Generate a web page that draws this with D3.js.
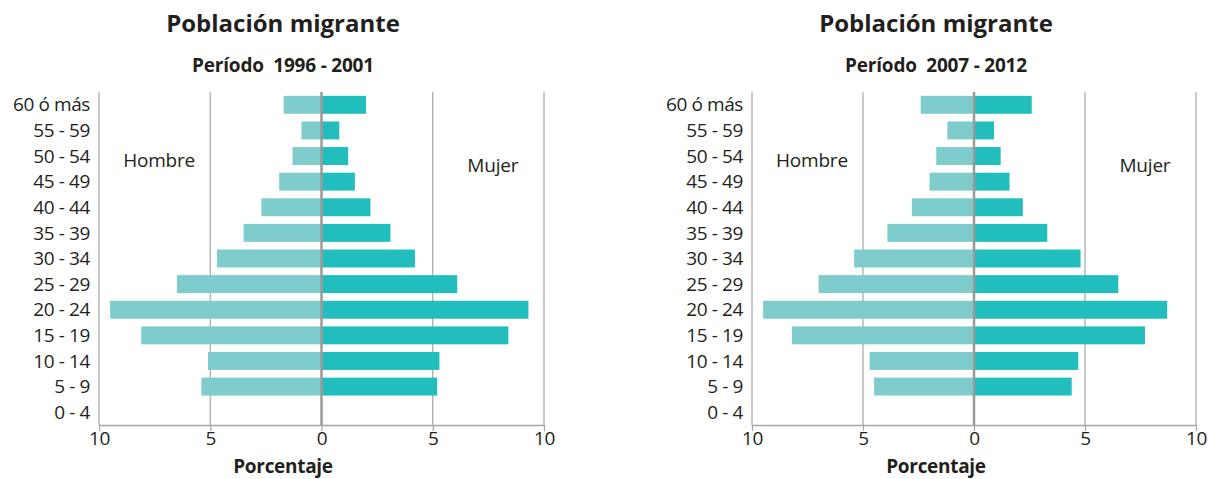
<!DOCTYPE html>
<html>
<head>
<meta charset="utf-8">
<script src="https://cdn.jsdelivr.net/npm/d3@7"></script>
<style>
  body { margin: 0; background: #fff; }
  svg { display: block; font-family: 'Open Sans', 'Noto Sans', sans-serif; }
</style>
</head>
<body>
<svg id="chart"></svg>
<script>
var width = 1214;
var height = 479;

// age groups, top to bottom
var ageGroups = ['60 ó más', '55 - 59', '50 - 54', '45 - 49', '40 - 44', '35 - 39', '30 - 34',
  '25 - 29', '20 - 24', '15 - 19', '10 - 14', '5 - 9', '0 - 4'];

var hombre1996 = [1.7, 0.9, 1.3, 1.9, 2.7, 3.5, 4.7, 6.5, 9.5, 8.1, 5.1, 5.4, 0];
var mujer1996  = [2.0, 0.8, 1.2, 1.5, 2.2, 3.1, 4.2, 6.1, 9.3, 8.4, 5.3, 5.2, 0];
var hombre2007 = [2.4, 1.2, 1.7, 2.0, 2.8, 3.9, 5.4, 7.0, 9.5, 8.2, 4.7, 4.5, 0];
var mujer2007  = [2.6, 0.9, 1.2, 1.6, 2.2, 3.3, 4.8, 6.5, 8.7, 7.7, 4.7, 4.4, 0];

var titles = ['Población migrante', 'Población migrante'];
var subtitles = ['Período  1996 - 2001', 'Período  2007 - 2012'];
var xTicks = [-10, -5, 0, 5, 10];

var colorHombre = '#7ecccc';
var colorMujer = '#22bdbd';

var svg = d3.select('#chart')
  .attr('width', width)
  .attr('height', height);

var panels = [
  { hombre: hombre1996, mujer: mujer1996, x0: 99, x1: 544, cx: 283, title: titles[0], sub: subtitles[0] },
  { hombre: hombre2007, mujer: mujer2007, x0: 752, x1: 1196, cx: 936, title: titles[1], sub: subtitles[1] }
];

var y = d3.scaleBand()
  .domain(ageGroups)
  .range([92, 425])
  .paddingInner(0.3)
  .paddingOuter(0.15);

panels.forEach(function(p) {
  var g = svg.append('g');
  var x = d3.scaleLinear().domain([-10, 10]).range([p.x0, p.x1]);
  var yTop = 92, yBot = 425;

  // titles
  g.append('text')
    .attr('x', p.cx).attr('y', 32)
    .attr('text-anchor', 'middle')
    .attr('font-size', 24).attr('font-weight', 'bold')
    .attr('fill', '#231f20')
    .text(p.title);
  g.append('text')
    .attr('x', p.cx).attr('y', 72)
    .attr('text-anchor', 'middle')
    .attr('font-size', 19).attr('font-weight', 'bold')
    .attr('letter-spacing', -0.2)
    .attr('fill', '#231f20')
    .style('white-space', 'pre')
    .text(p.sub);

  // gridlines
  g.selectAll('line.grid')
    .data(xTicks.filter(function(t) { return t !== 0; }))
    .enter().append('line')
    .attr('class', 'grid')
    .attr('x1', function(d) { return x(d); })
    .attr('x2', function(d) { return x(d); })
    .attr('y1', yTop).attr('y2', yBot)
    .attr('stroke', '#a6a6a6')
    .attr('stroke-width', 1.2);

  // bars
  g.selectAll('rect.h')
    .data(p.hombre)
    .enter().append('rect')
    .attr('x', function(d) { return x(-d); })
    .attr('y', function(d, i) { return y(ageGroups[i]); })
    .attr('width', function(d) { return x(0) - x(-d); })
    .attr('height', y.bandwidth())
    .attr('fill', colorHombre);
  g.selectAll('rect.m')
    .data(p.mujer)
    .enter().append('rect')
    .attr('x', x(0))
    .attr('y', function(d, i) { return y(ageGroups[i]); })
    .attr('width', function(d) { return x(d) - x(0); })
    .attr('height', y.bandwidth())
    .attr('fill', colorMujer);

  // center line
  g.append('line')
    .attr('x1', x(0)).attr('x2', x(0))
    .attr('y1', yTop).attr('y2', yBot)
    .attr('stroke', '#9a9a9a')
    .attr('stroke-width', 2.5);

  // x axis
  var xAxis = d3.axisBottom(x)
    .tickValues(xTicks)
    .tickFormat(function(d) { return Math.abs(d); })
    .tickSize(6)
    .tickSizeOuter(0);
  var ax = g.append('g')
    .attr('transform', 'translate(0,' + yBot + ')')
    .call(xAxis);
  ax.select('.domain').attr('stroke', '#a6a6a6').attr('stroke-width', 1.5);
  ax.selectAll('.tick line').attr('stroke', '#a6a6a6').attr('stroke-width', 1.2);
  ax.selectAll('.tick text')
    .attr('font-size', 19)
    .attr('font-family', "'Open Sans', sans-serif")
    .attr('letter-spacing', -0.3)
    .attr('fill', '#231f20')
    .attr('y', 6)
    .attr('dy', '0.71em');

  g.append('text')
    .attr('x', p.cx).attr('y', 473)
    .attr('text-anchor', 'middle')
    .attr('font-size', 19).attr('font-weight', 'bold')
    .attr('letter-spacing', -0.3)
    .attr('fill', '#231f20')
    .text('Porcentaje');

  // y labels
  g.selectAll('text.age')
    .data(ageGroups)
    .enter().append('text')
    .attr('class', 'age')
    .attr('x', p.x0 - 9)
    .attr('y', function(d) { return y(d) + y.bandwidth() / 2; })
    .attr('dy', '0.35em')
    .attr('text-anchor', 'end')
    .attr('font-size', 19)
    .attr('letter-spacing', -0.4)
    .attr('fill', '#231f20')
    .text(function(d) { return d; });

  // sex labels
  g.append('text')
    .attr('x', x(-7.3)).attr('y', 160)
    .attr('dy', '0.35em')
    .attr('text-anchor', 'middle')
    .attr('font-size', 19)
    .attr('letter-spacing', -0.2)
    .attr('fill', '#231f20')
    .text('Hombre');
  g.append('text')
    .attr('x', x(7.7)).attr('y', 165)
    .attr('dy', '0.35em')
    .attr('text-anchor', 'middle')
    .attr('font-size', 19)
    .attr('letter-spacing', -0.2)
    .attr('fill', '#231f20')
    .text('Mujer');
});
</script>
</body>
</html>
